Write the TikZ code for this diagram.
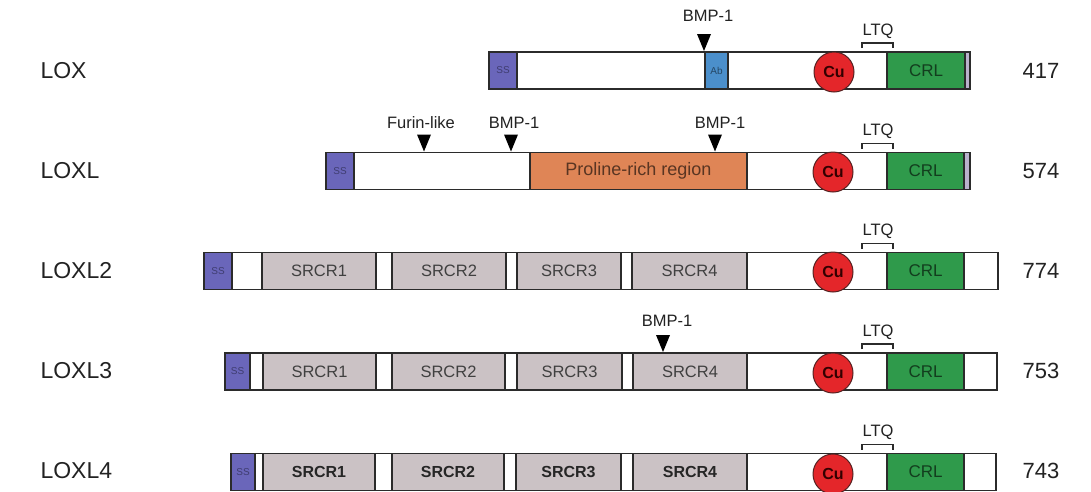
\documentclass[tikz,border=0pt]{standalone}
\usepackage{fontspec}
\setmainfont{Liberation Sans}
\usetikzlibrary{calc}
\definecolor{ssc}{HTML}{6A66BA}
\definecolor{abc}{HTML}{4B8FCB}
\definecolor{proc}{HTML}{DF8556}
\definecolor{srcrc}{HTML}{CBC2C5}
\definecolor{crlc}{HTML}{2F9A4B}
\definecolor{cuc}{HTML}{E4262A}
\definecolor{endc}{HTML}{B9B2CC}
\definecolor{linec}{HTML}{2B2B2B}
\definecolor{txtc}{HTML}{222222}
\tikzset{
  segbox/.style={draw=linec, line width=1.6pt, inner sep=0pt, outer sep=0pt, minimum height=37pt},
  rowlabel/.style={anchor=west, text=txtc, font=\fontsize{23}{26}\selectfont},
  numlabel/.style={text=txtc, font=\fontsize{22}{26}\selectfont},
  marktxt/.style={font=\fontsize{16.5}{18}\selectfont, text=txtc},
  cubox/.style={circle, draw=linec!80!red, line width=1pt, fill=cuc, minimum size=40pt, inner sep=0pt, font=\bfseries\fontsize{16}{18}\selectfont, text=black!80!red},
  tri/.style={fill=black},
  brk/.style={draw=linec, line width=1.2pt}
}
\newcommand\seg[6]{\node[segbox, fill=#5, minimum width={(#3-#2)*1pt}] (#1) at ({(#2+#3)/2},#4) {#6};}
\newcommand\sstxt{\textcolor{ssc!60!black}{\fontsize{10}{12}\selectfont SS}}
\newcommand\crltxt{\textcolor{crlc!40!black}{\fontsize{17}{19}\selectfont CRL}}
\newcommand\srcr[1]{\textcolor{black!75}{\fontsize{16.5}{18}\selectfont SRCR#1}}
\newcommand\srcrb[1]{\textcolor{black!85}{\bfseries\fontsize{16}{18}\selectfont SRCR#1}}
\newcommand\marker[3]{% name, x, bar top
  \coordinate (#1) at (#2,#3);
  \fill[tri] ($(#1)+(-7,-18)$) -- ($(#1)+(7,-18)$) -- ($(#1)+(0,-1)$) -- cycle;}
\newcommand\ltq[2]{% name, bar top
  \node[marktxt] (#1) at (878,#2-21) {LTQ};
  \draw[brk] (862,#2-4) -- (862,#2-9) -- (893,#2-9) -- (893,#2-4);}
\begin{document}
\begin{tikzpicture}[x=1pt,y=-1pt]
\useasboundingbox[fill=white] (0,0) rectangle (1091,491);

% ---------- LOX ----------
\node[rowlabel] (l1) at (37,71) {LOX};
\node[numlabel] (n1) at (1041,71) {417};
\seg{a0}{489}{970}{70.5}{white}{}
\seg{ass}{489}{517}{70.5}{ssc}{\sstxt}
\seg{aab}{705}{728}{70.5}{abc}{\textcolor{abc!50!black}{\fontsize{10}{12}\selectfont Ab}}
\seg{acrl}{887}{965}{70.5}{crlc}{\crltxt}
\seg{aend}{965}{970}{70.5}{endc}{}
\node[cubox] (acu) at (834,72) {Cu};
\marker{am1}{704}{52}
\node[marktxt] (at1) at (708,16) {BMP-1};
\ltq{altq}{52}

% ---------- LOXL ----------
\node[rowlabel] (l2) at (37,171) {LOXL};
\node[numlabel] (n2) at (1041,171) {574};
\seg{b0}{326}{970}{171}{white}{}
\seg{bss}{326}{354}{171}{ssc}{\sstxt}
\seg{bpro}{530}{747}{171}{proc}{\textcolor{proc!40!black}{\fontsize{18}{20}\selectfont Proline-rich region}}
\seg{bcrl}{887}{964}{171}{crlc}{\crltxt}
\seg{bend}{964}{970}{171}{endc}{}
\node[cubox] (bcu) at (833,172) {Cu};
\marker{bm1}{424}{152.5}
\marker{bm2}{511}{152.5}
\marker{bm3}{715}{152.5}
\node[marktxt] (bt1) at (421,123) {Furin-like};
\node[marktxt] (bt2) at (514,123) {BMP-1};
\node[marktxt] (bt3) at (720,123) {BMP-1};
\ltq{bltq}{152.5}

% ---------- LOXL2 ----------
\node[rowlabel] (l3) at (37,271) {LOXL2};
\node[numlabel] (n3) at (1041,271) {774};
\seg{c0}{204}{998}{271}{white}{}
\seg{css}{204}{232}{271}{ssc}{\sstxt}
\seg{cs1}{262}{376}{271}{srcrc}{\srcr{1}}
\seg{cs2}{392}{506}{271}{srcrc}{\srcr{2}}
\seg{cs3}{517}{621}{271}{srcrc}{\srcr{3}}
\seg{cs4}{632}{747}{271}{srcrc}{\srcr{4}}
\seg{ccrl}{887}{964}{271}{crlc}{\crltxt}
\node[cubox] (ccu) at (833,272) {Cu};
\ltq{cltq}{252.5}

% ---------- LOXL3 ----------
\node[rowlabel] (l4) at (37,371) {LOXL3};
\node[numlabel] (n4) at (1041,371) {753};
\seg{d0}{225}{997}{371.5}{white}{}
\seg{dss}{225}{250}{371.5}{ssc}{\sstxt}
\seg{ds1}{263}{376}{371.5}{srcrc}{\srcr{1}}
\seg{ds2}{392}{505}{371.5}{srcrc}{\srcr{2}}
\seg{ds3}{517}{622}{371.5}{srcrc}{\srcr{3}}
\seg{ds4}{633}{747}{371.5}{srcrc}{\srcr{4}}
\seg{dcrl}{887}{964}{371.5}{crlc}{\crltxt}
\node[cubox] (dcu) at (833,373) {Cu};
\marker{dm1}{663}{353}
\node[marktxt] (dt1) at (667,321) {BMP-1};
\ltq{dltq}{353}

% ---------- LOXL4 ----------
\node[rowlabel] (l5) at (37,471) {LOXL4};
\node[numlabel] (n5) at (1041,471) {743};
\seg{e0}{231}{996}{472}{white}{}
\seg{ess}{231}{255}{472}{ssc}{\sstxt}
\seg{es1}{263}{375}{472}{srcrc}{\srcrb{1}}
\seg{es2}{392}{504}{472}{srcrc}{\srcrb{2}}
\seg{es3}{516}{621}{472}{srcrc}{\srcrb{3}}
\seg{es4}{633}{747}{472}{srcrc}{\srcrb{4}}
\seg{ecrl}{887}{964}{472}{crlc}{\crltxt}
\node[cubox] (ecu) at (833,474) {Cu};
\ltq{eltq}{453.5}
\end{tikzpicture}
\end{document}
